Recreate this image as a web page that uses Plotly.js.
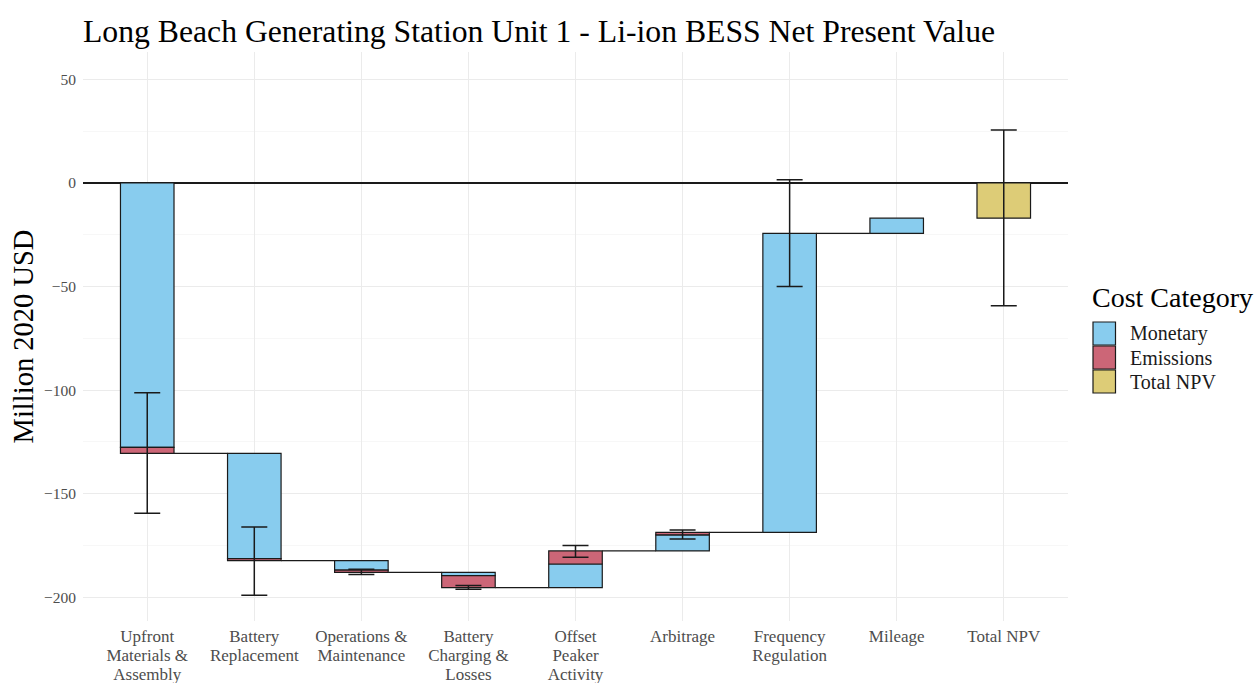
<!DOCTYPE html>
<html>
<head>
<meta charset="utf-8">
<script src="https://cdn.plot.ly/plotly-3.0.1.min.js"></script>
<style>html,body{margin:0;padding:0;background:#fff;}#chart{width:1254px;height:683px;}</style>
</head>
<body>
<div id="chart"></div>
<script>
// ---- data (Million 2020 USD) ----
const categories = ["Upfront<br>Materials &<br>Assembly", "Battery<br>Replacement", "Operations &<br>Maintenance",
  "Battery<br>Charging &<br>Losses", "Offset<br>Peaker<br>Activity", "Arbitrage", "Frequency<br>Regulation",
  "Mileage", "Total NPV"];
const monetary = [-127.6, -50.8, -4.5, -1.6, 11.4, 7.8, 144.3, 7.3];
const emissions = [-2.9, -1.0, -1.1, -5.8, 6.3, 1.2, null, null];
const errLow  = [-159.4, -199.0, -189.0, -196.1, -180.6, -171.8, -50.0, null, -59.2];
const errHigh = [-101.2, -166.0, -186.4, -194.3, -175.0, -167.5, 1.6, null, 25.6];
const seriesNames = ["Monetary", "Emissions", "Total NPV"];
const seriesColors = ["#88CCEE", "#CC6677", "#DDCC77"];

// ---- waterfall computation ----
const n = monetary.length;
const xs = categories.map((c, i) => i + 1);
const monBase = [], emBase = [], ends = [];
let level = 0;
for (let i = 0; i < n; i++) {
  monBase.push(level); level += monetary[i];
  emBase.push(level); level += (emissions[i] || 0);
  ends.push(level);
}
const total = level;
const centers = ends.concat([total]);

const barW = 0.5;
const outline = {color: "#1a1a1a", width: 1.2};

const traces = [];
traces.push({type: "bar", x: xs.slice(0, n), y: monetary, base: monBase, width: barW,
  marker: {color: seriesColors[0], line: outline}, name: seriesNames[0], showlegend: false, hoverinfo: "skip"});
traces.push({type: "bar", x: xs.slice(0, n), y: emissions, base: emBase, width: barW,
  marker: {color: seriesColors[1], line: outline}, name: seriesNames[1], showlegend: false, hoverinfo: "skip"});
traces.push({type: "bar", x: [xs[n]], y: [total], base: [0], width: barW,
  marker: {color: seriesColors[2], line: outline}, name: seriesNames[2], showlegend: false, hoverinfo: "skip"});

// connectors
const cx = [], cy = [];
for (let i = 0; i < n - 1; i++) {
  cx.push(xs[i] + barW / 2, xs[i + 1] - barW / 2, null);
  cy.push(ends[i], ends[i], null);
}
traces.push({type: "scatter", mode: "lines", x: cx, y: cy, line: {color: "#1a1a1a", width: 1.2},
  showlegend: false, hoverinfo: "skip"});

// error bars
const eY = centers.map((c, i) => errLow[i] === null ? null : c);
traces.push({type: "scatter", mode: "markers", x: xs, y: eY, marker: {size: 0.1, color: "rgba(0,0,0,0)"},
  error_y: {type: "data", symmetric: false,
    array: centers.map((c, i) => errHigh[i] === null ? null : errHigh[i] - c),
    arrayminus: centers.map((c, i) => errLow[i] === null ? null : c - errLow[i]),
    color: "#1a1a1a", thickness: 1.5, width: 13},
  showlegend: false, hoverinfo: "skip"});

// ---- layout ----
const L = 83, R = 1068, T = 52, B = 621;
const px2x = p => (p - L) / (R - L);
const py2y = p => (B - p) / (B - T);
const font = "Liberation Serif, Times New Roman, serif";

const shapes = [];
const annotations = [];
const keyTops = [322, 346, 370];
seriesNames.forEach((nm, i) => {
  shapes.push({type: "rect", xref: "paper", yref: "paper", x0: px2x(1093), x1: px2x(1115.5),
    y0: py2y(keyTops[i] + 23), y1: py2y(keyTops[i]), fillcolor: seriesColors[i],
    line: {color: "#1a1a1a", width: 1.2}});
  annotations.push({xref: "paper", yref: "paper", x: px2x(1128), y: py2y(keyTops[i] + 11.5),
    xanchor: "left", yanchor: "middle", text: nm, showarrow: false,
    font: {family: font, size: 20, color: "#1a1a1a"}});
});
annotations.push({xref: "paper", yref: "paper", x: px2x(1090), y: py2y(297), xanchor: "left", yanchor: "middle",
  text: "Cost Category", showarrow: false, font: {family: font, size: 28, color: "#000"}});

const layout = {
  width: 1254, height: 683,
  margin: {l: L, r: 1254 - R, t: T, b: 683 - B, pad: 0},
  paper_bgcolor: "#fff", plot_bgcolor: "#fff",
  barmode: "overlay",
  showlegend: false,
  font: {family: font},
  title: {text: "Long Beach Generating Station Unit 1 - Li-ion BESS Net Present Value",
    x: px2x(83), xref: "paper", xanchor: "left", y: 1 - 31 / 683, yref: "container", yanchor: "middle",
    font: {family: font, size: 31.7, color: "#000"}},
  xaxis: {range: [0.4, n + 1.6], tickvals: xs, ticktext: categories, showgrid: true,
    gridcolor: "#ebebeb", gridwidth: 1.1, zeroline: false, showline: false, ticks: "",
    ticklabelstandoff: 3,
    tickfont: {family: font, size: 17, color: "#4d4d4d"}, fixedrange: true},
  yaxis: {range: [-211.4, 63.2], tickvals: [50, 0, -50, -100, -150, -200], showgrid: true,
    gridcolor: "#ebebeb", gridwidth: 1.1, zeroline: true, zerolinecolor: "#1a1a1a", zerolinewidth: 1.3,
    minor: {tickvals: [25, -25, -75, -125, -175], showgrid: true, gridcolor: "#f3f3f3", gridwidth: 0.7},
    ticks: "", ticklabelstandoff: 6,
    tickfont: {family: font, size: 15.5, color: "#4d4d4d"},
    title: {text: "Million 2020 USD", standoff: 2, font: {family: font, size: 28.5, color: "#000"}},
    fixedrange: true},
  shapes: shapes,
  annotations: annotations
};

Plotly.newPlot("chart", traces, layout, {displayModeBar: false, staticPlot: true}).then(gd => {
  // tighter line spacing for multi-line category labels (as in the reference)
  gd.querySelectorAll(".xtick text tspan.line").forEach(t => {
    const dy = t.getAttribute("dy");
    const v = dy ? parseFloat(dy) : 0;
    if (v > 0) t.setAttribute("dy", (v / 1.3 * 1.13).toFixed(3) + "em");
  });
});
</script>
</body>
</html>
